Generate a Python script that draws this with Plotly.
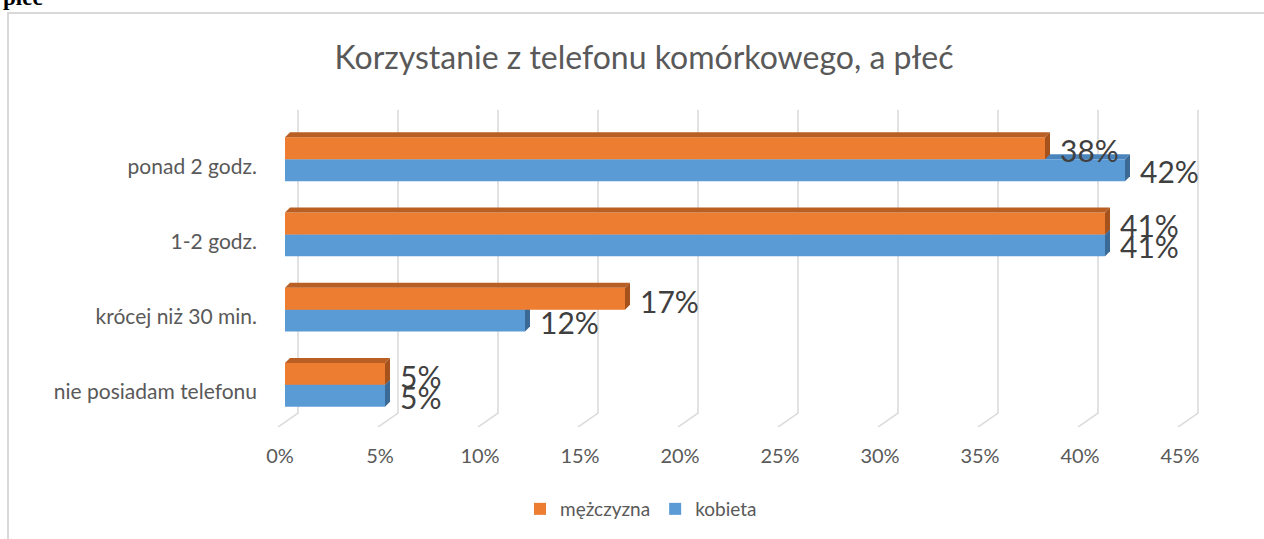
import plotly.graph_objects as go

# ---- data ----
categories = ["nie posiadam telefonu", "krócej niż 30 min.", "1-2 godz.", "ponad 2 godz."]
kobieta = [5, 12, 41, 42]
mezczyzna = [5, 17, 41, 38]
series_names = ["mężczyzna", "kobieta"]
x_ticks = [0, 5, 10, 15, 20, 25, 30, 35, 40, 45]
x_tick_labels = [f"{t}%" for t in x_ticks]
title_text = "Korzystanie z telefonu komórkowego, a płeć"
heading_text = "płeć"

# ---- style ----
ORANGE = "#ED7D31"
ORANGE_TOP = "#B95F24"
ORANGE_SIDE = "#A6521C"
BLUE = "#5B9BD5"
BLUE_TOP = "#4A84BC"
BLUE_SIDE = "#3C6A96"
GRID = "#D9D9D9"
TXT = "#595959"
LBL = "#404040"
FONT = "Lato, 'Open Sans', sans-serif"

W, H = 1264, 539
M_L, M_R, M_T, M_B = 265, 59, 108, 112
X_RANGE = [-1, 46]
Y_RANGE = [-0.56, 3.68]
BARGAP = 0.416
half = (1 - BARGAP) / 2

plot_w = W - M_L - M_R
plot_h = H - M_T - M_B
px_x = plot_w / (X_RANGE[1] - X_RANGE[0])   # pixels per percent
px_y = plot_h / (Y_RANGE[1] - Y_RANGE[0])   # pixels per category step

DEPTH = 5          # 3D depth of the bars, px
dx = DEPTH / px_x
dy = DEPTH / px_y


def px_to_paper_x(px):
    return (px - M_L) / plot_w


def px_to_paper_y(py):
    return (H - M_B - py) / plot_h


pos = list(range(len(categories)))

fig = go.Figure()
fig.add_trace(go.Bar(
    y=pos, x=kobieta, orientation="h", name=series_names[1],
    marker=dict(color=BLUE, line=dict(width=0)), legendrank=2,
))
fig.add_trace(go.Bar(
    y=pos, x=mezczyzna, orientation="h", name=series_names[0],
    marker=dict(color=ORANGE, line=dict(width=0)), legendrank=1,
))

shapes = []

# back-wall gridlines with a slanted floor segment
g_back = 13 / px_x
g_front = -7 / px_x
g_top = Y_RANGE[1] - 2 / px_y
g_bottom = Y_RANGE[0] + 14 / px_y
for t in x_ticks:
    shapes.append(dict(
        type="path", xref="x", yref="y", layer="below",
        path=(f"M {t + g_back},{g_top} L {t + g_back},{g_bottom} "
              f"L {t + g_front},{Y_RANGE[0]}"),
        line=dict(color=GRID, width=1.5),
    ))

# 3D faces of the bars
for i, (vb, vo) in enumerate(zip(kobieta, mezczyzna)):
    # kobieta: top and side faces sit under the orange bar
    shapes.append(dict(
        type="path", xref="x", yref="y", layer="below",
        path=f"M 0,{i} L {vb},{i} L {vb + dx},{i + dy} L {dx},{i + dy} Z",
        fillcolor=BLUE_TOP, line=dict(width=0),
    ))
    shapes.append(dict(
        type="path", xref="x", yref="y", layer="below",
        path=(f"M {vb},{i - half} L {vb},{i} L {vb + dx},{i + dy} "
              f"L {vb + dx},{i - half + dy} Z"),
        fillcolor=BLUE_SIDE, line=dict(width=0),
    ))
    # mężczyzna: top and side faces
    top = i + half
    shapes.append(dict(
        type="path", xref="x", yref="y", layer="above",
        path=f"M 0,{top} L {vo},{top} L {vo + dx},{top + dy} L {dx},{top + dy} Z",
        fillcolor=ORANGE_TOP, line=dict(width=0),
    ))
    shapes.append(dict(
        type="path", xref="x", yref="y", layer="above",
        path=(f"M {vo},{i} L {vo},{top} L {vo + dx},{top + dy} "
              f"L {vo + dx},{i + dy} Z"),
        fillcolor=ORANGE_SIDE, line=dict(width=0),
    ))

# chart frame
shapes.append(dict(
    type="rect", xref="paper", yref="paper", layer="above",
    x0=px_to_paper_x(8), x1=px_to_paper_x(W + 10),
    y0=px_to_paper_y(H + 10), y1=px_to_paper_y(13),
    line=dict(color="#D9D9D9", width=2), fillcolor="rgba(0,0,0,0)",
))

annotations = []
for i, (vb, vo) in enumerate(zip(kobieta, mezczyzna)):
    annotations.append(dict(
        x=vo, y=i, xref="x", yref="y", text=f"{vo}%", showarrow=False,
        xanchor="left", yanchor="middle", xshift=13, yshift=9,
        font=dict(family=FONT, size=30, color=LBL),
    ))
    annotations.append(dict(
        x=vb, y=i, xref="x", yref="y", text=f"{vb}%", showarrow=False,
        xanchor="left", yanchor="middle", xshift=13, yshift=-12,
        font=dict(family=FONT, size=30, color=LBL),
    ))

annotations.append(dict(
    x=px_to_paper_x(1), y=px_to_paper_y(12), xref="paper", yref="paper",
    text=f"<b>{heading_text}</b>", showarrow=False,
    xanchor="left", yanchor="bottom",
    font=dict(family="Liberation Serif, serif", size=23, color="#000000"),
))

fig.update_layout(
    width=W, height=H,
    margin=dict(l=M_L, r=M_R, t=M_T, b=M_B, autoexpand=False),
    paper_bgcolor="white", plot_bgcolor="white",
    barmode="group", bargap=BARGAP, bargroupgap=0,
    title=dict(
        text=title_text, x=644 / W, xanchor="center",
        y=1 - 58 / H, yanchor="middle",
        font=dict(family=FONT, size=32, color=TXT),
    ),
    xaxis=dict(
        range=X_RANGE, tickvals=x_ticks, ticktext=x_tick_labels,
        showgrid=False, zeroline=False, showline=False,
        ticks="", ticklabelstandoff=15, ticklabelshift=-5,
        tickfont=dict(family=FONT, size=20, color=TXT),
    ),
    yaxis=dict(
        range=Y_RANGE, tickvals=pos, ticktext=categories,
        showgrid=False, zeroline=False, showline=False,
        ticks="", ticklabelstandoff=7, ticklabelshift=7,
        tickfont=dict(family=FONT, size=21, color=TXT),
    ),
    legend=dict(
        orientation="h", x=px_to_paper_x(641), xanchor="center",
        y=px_to_paper_y(509), yanchor="middle",
        font=dict(family=FONT, size=19, color=TXT),
        itemwidth=30,
    ),
    shapes=shapes, annotations=annotations,
)

fig.write_html("out.html")
